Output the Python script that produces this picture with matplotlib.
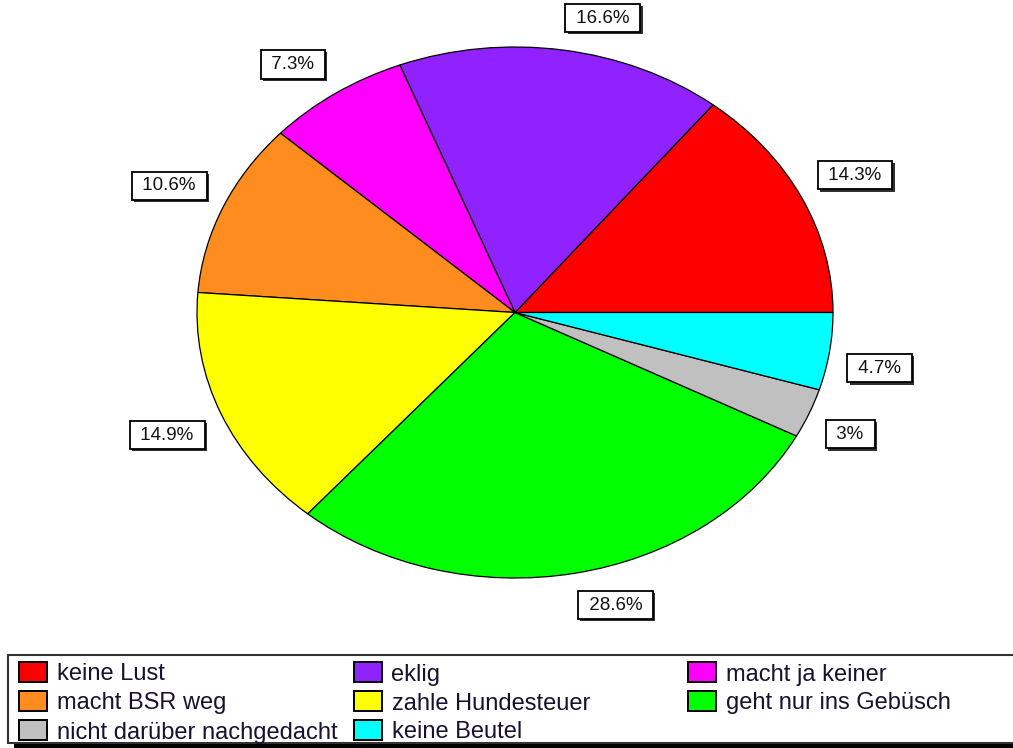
"""Pie chart: reasons for not picking up after the dog (German survey)."""

import numpy as np
import matplotlib.pyplot as plt
from matplotlib import patheffects
from matplotlib.patches import Rectangle

plt.rcParams["font.family"] = ["Liberation Sans", "DejaVu Sans"]

labels = [
    "keine Lust",
    "eklig",
    "macht ja keiner",
    "macht BSR weg",
    "zahle Hundesteuer",
    "geht nur ins Gebüsch",
    "nicht darüber nachgedacht",
    "keine Beutel",
]
shares = [14.3, 16.6, 7.3, 10.6, 14.9, 28.6, 3.0, 4.7]
colors = ["#ff0000", "#9022ff", "#ff00ff", "#ff8c1e",
          "#ffff00", "#00ff00", "#c0c0c0", "#00ffff"]

W, H = 1013, 748
fig = plt.figure(figsize=(W / 100, H / 100), dpi=100)
fig.patch.set_facecolor("white")

# overlay in pixel coordinates for the legend
lay = fig.add_axes([0, 0, 1, 1])
lay.set_xlim(0, W)
lay.set_ylim(H, 0)
lay.axis("off")

# elliptical pie: axes box = ellipse bounding box
ax = fig.add_axes([197 / W, (H - 578) / H, 636 / W, 531 / H])
wedges, _ = ax.pie(
    shares,
    colors=colors,
    startangle=0,
    counterclock=True,
    radius=1,
    wedgeprops=dict(edgecolor="black", linewidth=0.9),
)
ax.set_xlim(-1, 1)
ax.set_ylim(-1, 1)
ax.set_aspect("auto")
ax.axis("off")

shadow = [patheffects.SimplePatchShadow(offset=(1.6, -1.6), shadow_rgbFace="#303030", alpha=1.0),
          patheffects.Normal()]

gap_pt = 18 * 0.72
pad = 0.3
fs = 13.5
for w, v in zip(wedges, shares):
    mid = np.deg2rad((w.theta1 + w.theta2) / 2)
    c, s = np.cos(mid), np.sin(mid)
    extra = pad * fs
    t = ax.annotate(
        f" {v:g}% ",
        xy=(c, s),
        xytext=(c * gap_pt + np.sign(c) * extra, s * gap_pt + np.sign(s) * extra),
        textcoords="offset points",
        ha="left" if c > 0 else "right",
        va="bottom" if s > 0 else "top",
        fontsize=fs,
        color="#111111",
        bbox=dict(boxstyle=f"square,pad={pad}", fc="white", ec="black", lw=1.3),
        annotation_clip=False,
    )
    t.get_bbox_patch().set_path_effects(shadow)

# legend box with drop shadow
lay.add_patch(Rectangle((14, 661), 1030, 90, fc="black", ec="none"))
lay.add_patch(Rectangle((8, 655), 1030, 88, fc="white", ec="#333333", lw=1.5))
for i, (lab, col) in enumerate(zip(labels, colors)):
    row, cidx = divmod(i, 3)
    x0 = 19 + 334.5 * cidx
    yc = 672 + 29 * row
    lay.add_patch(Rectangle((x0, yc - 10), 28, 20, fc=col, ec="black", lw=1.4))
    lay.text(x0 + 38, yc, lab, fontsize=17, color="#1a1030", ha="left", va="center_baseline")

fig.savefig("out.png", dpi=100)
